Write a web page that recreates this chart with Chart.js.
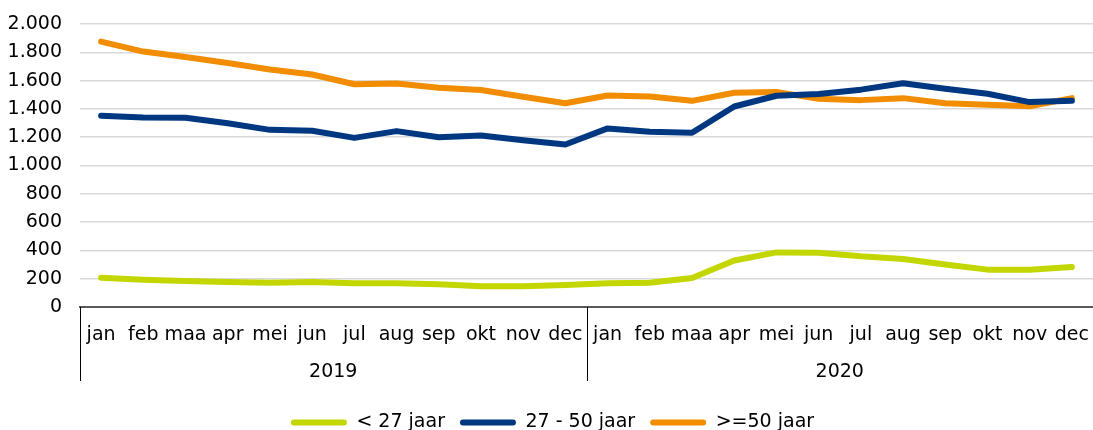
<!DOCTYPE html>
<html lang="nl">
<head>
    <meta charset="UTF-8">
    <script src="https://cdn.jsdelivr.net/npm/chart.js@4.4.0/dist/chart.umd.min.js"></script>
    <title>Leeftijdsgroepen</title>
    <style>
        html, body { margin: 0; padding: 0; background: #fff; }
        #wrap { width: 1093px; height: 430px; }
    </style>
</head>
<body>

    <div id="wrap">
        <canvas id="myChart"></canvas>
    </div>

    <script>
        // data
        const months = ['jan', 'feb', 'maa', 'apr', 'mei', 'jun', 'jul', 'aug', 'sep', 'okt', 'nov', 'dec'];
        const years = ['2019', '2020'];

        const onder27 = [207, 193, 184, 176, 172, 176, 167, 167, 160, 146, 146, 155,
                         167, 172, 205, 329, 386, 384, 358, 339, 301, 264, 264, 282];
        const van27tot50 = [1352, 1340, 1338, 1298, 1252, 1245, 1195, 1243, 1200, 1212, 1179, 1148,
                            1262, 1238, 1231, 1417, 1493, 1505, 1536, 1581, 1543, 1507, 1448, 1457];
        const vanaf50 = [1876, 1805, 1767, 1724, 1679, 1643, 1574, 1579, 1550, 1533, 1486, 1440,
                         1495, 1488, 1457, 1514, 1519, 1471, 1462, 1476, 1440, 1429, 1419, 1476];

        const yMin = 0;
        const yMax = 2000;
        const yStep = 200;

        const labels = years.flatMap(y => months.map(m => m + ' ' + y));

        const FONT = "'DejaVu Sans', Verdana, sans-serif";
        const FSIZE = 19;
        Chart.defaults.font.family = FONT;
        Chart.defaults.font.size = FSIZE;
        Chart.defaults.color = '#000';

        function serie(label, data, color) {
            return {
                label: label,
                data: data,
                borderColor: color,
                backgroundColor: color,
                borderWidth: 6,
                borderJoinStyle: 'round',
                borderCapStyle: 'round',
                pointRadius: 0,
                pointHoverRadius: 0,
                tension: 0,
                fill: false
            };
        }

        // second level of the x axis: year labels + separators
        const yearAxis = {
            id: 'yearAxis',
            afterDraw(chart) {
                const x = chart.scales.x;
                const ctx = chart.ctx;
                const n = months.length;
                const sepLen = 74;
                const cuts = [x.left, x.right];
                for (let i = 1; i < years.length; i++) {
                    cuts.push((x.getPixelForValue(i * n - 1) + x.getPixelForValue(i * n)) / 2);
                }
                ctx.save();
                ctx.strokeStyle = '#000';
                ctx.lineWidth = 1;
                cuts.forEach(px => {
                    const xx = Math.round(px) + 0.5;
                    ctx.beginPath();
                    ctx.moveTo(xx, x.top);
                    ctx.lineTo(xx, x.top + sepLen);
                    ctx.stroke();
                });
                ctx.fillStyle = '#000';
                ctx.font = FSIZE + 'px ' + FONT;
                ctx.textAlign = 'center';
                ctx.textBaseline = 'middle';
                years.forEach((y, i) => {
                    const mid = (x.getPixelForValue(i * n) + x.getPixelForValue(i * n + n - 1)) / 2;
                    ctx.fillText(y, mid, x.top + 65);
                });
                ctx.restore();
            }
        };

        const ctx = document.getElementById('myChart').getContext('2d');
        const myChart = new Chart(ctx, {
            type: 'line',
            data: {
                labels: labels,
                datasets: [
                    serie('< 27 jaar', onder27, '#c4d600'),
                    serie('27 - 50 jaar', van27tot50, '#003781'),
                    serie('>=50 jaar', vanaf50, '#f28c00')
                ]
            },
            options: {
                responsive: true,
                maintainAspectRatio: false,
                animation: false,
                layout: {
                    padding: { top: 24, left: 8, right: -4, bottom: -12 }
                },
                plugins: {
                    tooltip: { enabled: false },
                    legend: {
                        position: 'bottom',
                        labels: {
                            boxWidth: 56,
                            boxHeight: 6,
                            useBorderRadius: true,
                            borderRadius: 3,
                            padding: 15,
                            generateLabels(chart) {
                                const items = Chart.defaults.plugins.legend.labels.generateLabels(chart);
                                items.forEach(it => { it.lineWidth = 0; });
                                return items;
                            }
                        }
                    }
                },
                scales: {
                    x: {
                        offset: true,
                        grid: { display: false, drawTicks: true, tickLength: 17 },
                        border: { display: true, color: '#595959', width: 2 },
                        ticks: {
                            autoSkip: false,
                            maxRotation: 0,
                            padding: 0,
                            callback: (v, i) => months[i % months.length]
                        },
                        afterFit(scale) { scale.height = 91; }
                    },
                    y: {
                        min: yMin,
                        max: yMax,
                        grid: {
                            color: '#d9d9d9',
                            lineWidth: 1.5,
                            drawTicks: true,
                            tickLength: 18,
                            tickColor: 'rgba(0,0,0,0)'
                        },
                        border: { display: false },
                        ticks: {
                            stepSize: yStep,
                            autoSkip: false,
                            padding: 0,
                            callback: v => String(v).replace(/\B(?=(\d{3})+(?!\d))/g, '.')
                        },
                        afterFit(scale) { scale.width = 72; }
                    }
                }
            },
            plugins: [yearAxis]
        });
    </script>

</body>
</html>
